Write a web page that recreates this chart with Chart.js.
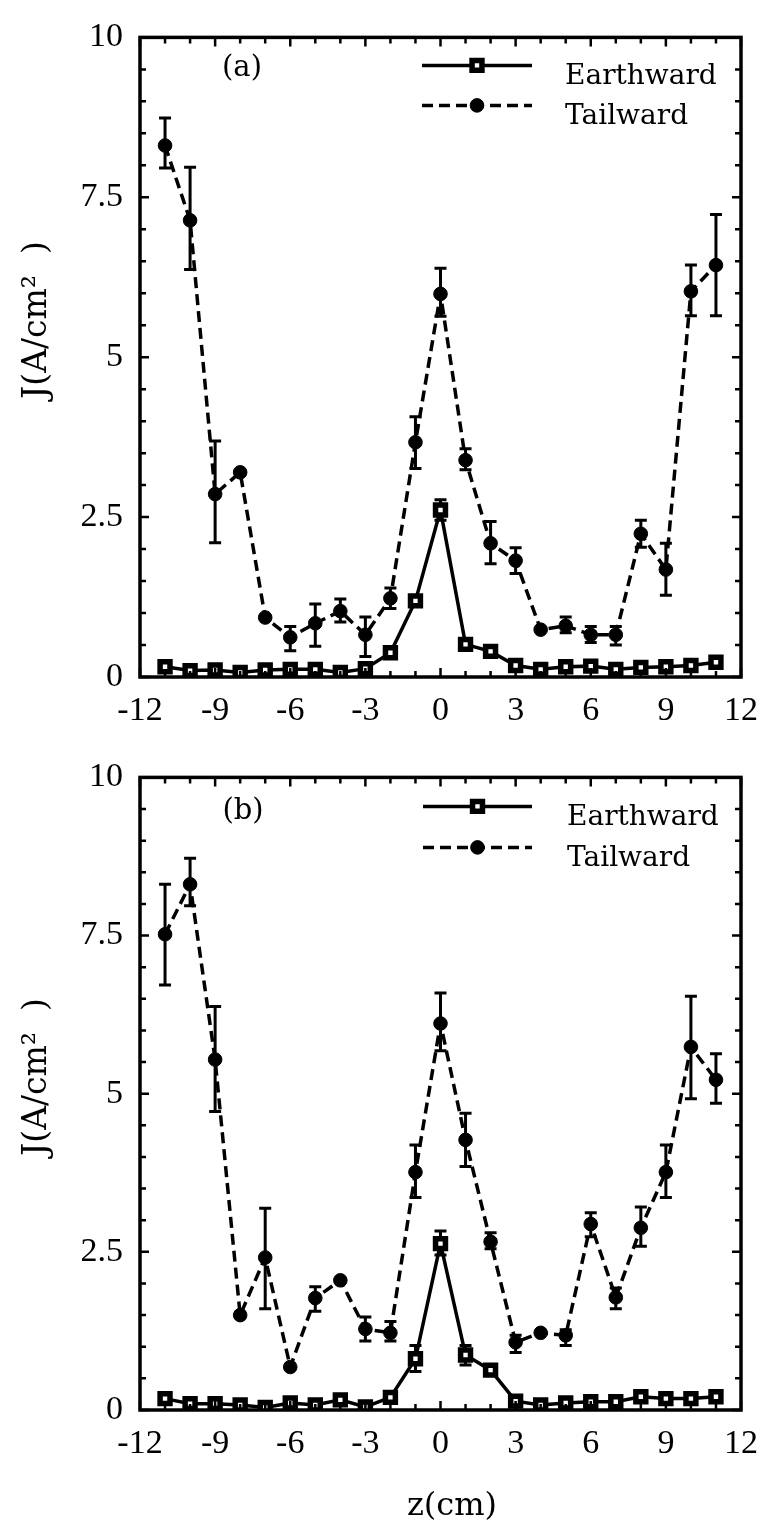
<!DOCTYPE html>
<html>
<head>
<meta charset="utf-8">
<script src="https://cdn.jsdelivr.net/npm/chart.js@4.4.0/dist/chart.umd.min.js"></script>
<style>
html, body { margin: 0; padding: 0; background: #fff; }
#wrapA { position: absolute; left: 0; top: 0; width: 772px; height: 740px; }
#wrapB { position: absolute; left: 0; top: 740px; width: 772px; height: 790px; }
</style>
</head>
<body>
<div id="wrapA"><canvas id="chartA"></canvas></div>
<div id="wrapB"><canvas id="chartB"></canvas></div>
<script>
// z positions (cm) and axis ticks
const zValues = [-11, -10, -9, -8, -7, -6, -5, -4, -3, -2, -1, 0, 1, 2, 3, 4, 5, 6, 7, 8, 9, 10, 11];
const xTicks = [-12, -9, -6, -3, 0, 3, 6, 9, 12];
const yTicks = [0, 2.5, 5, 7.5, 10];

// panel (a)
const earthA   = [0.16, 0.10, 0.11, 0.07, 0.11, 0.12, 0.12, 0.07, 0.13, 0.38, 1.19, 2.61, 0.51, 0.40, 0.18, 0.12, 0.16, 0.17, 0.12, 0.15, 0.16, 0.18, 0.23];
const earthAHi = [null, null, null, null, null, null, null, null, null, null, null, 2.77, null, null, null, null, null, null, null, null, null, null, null];
const earthALo = [null, null, null, null, null, null, null, null, null, null, null, 2.45, null, null, null, null, null, null, null, null, null, null, null];
const tailA    = [8.31, 7.14, 2.86, 3.20, 0.93, 0.62, 0.84, 1.03, 0.66, 1.23, 3.67, 5.99, 3.39, 2.09, 1.82, 0.74, 0.80, 0.66, 0.66, 2.24, 1.68, 6.03, 6.44];
const tailAHi  = [8.74, 7.97, 3.69, null, null, 0.79, 1.14, 1.22, 0.94, 1.39, 4.07, 6.39, 3.57, 2.43, 2.02, null, 0.94, 0.79, 0.79, 2.45, 2.09, 6.44, 7.23];
const tailALo  = [7.96, 6.37, 2.10, null, null, 0.41, 0.48, 0.86, 0.32, 1.07, 3.26, 5.64, 3.24, 1.77, 1.62, null, 0.69, 0.54, 0.50, 2.03, 1.28, 5.65, 5.65];

// panel (b)
const earthB   = [0.18, 0.10, 0.10, 0.08, 0.04, 0.11, 0.08, 0.16, 0.05, 0.20, 0.81, 2.63, 0.87, 0.63, 0.14, 0.08, 0.11, 0.13, 0.13, 0.21, 0.18, 0.18, 0.21];
const earthBHi = [null, null, null, null, null, null, null, null, null, null, 1.02, 2.83, 1.02, null, null, null, null, null, null, null, null, null, null];
const earthBLo = [null, null, null, null, null, null, null, null, null, null, 0.61, 2.45, 0.71, null, null, null, null, null, null, null, null, null, null];
const tailB    = [7.52, 8.31, 5.54, 1.50, 2.41, 0.68, 1.77, 2.05, 1.28, 1.22, 3.76, 6.11, 4.27, 2.66, 1.07, 1.22, 1.18, 2.94, 1.78, 2.88, 3.76, 5.74, 5.22];
const tailBHi  = [8.31, 8.72, 6.38, null, 3.19, null, 1.95, null, 1.47, 1.40, 4.19, 6.59, 4.69, 2.80, 1.18, null, 1.27, 3.12, 1.93, 3.21, 4.19, 6.54, 5.63];
const tailBLo  = [6.72, 7.97, 4.72, null, 1.60, null, 1.56, null, 1.09, 1.09, 3.36, 5.68, 3.85, 2.55, 0.91, null, 1.02, 2.74, 1.60, 2.59, 3.36, 4.92, 4.85];

const tickFont = { family: 'Liberation Serif', size: 34 };
const textFont = 'DejaVu Serif';

// error bars, frame with inside ticks, legend and labels
const decoPlugin = {
    id: 'deco',
    beforeDatasetsDraw(chart) {
        const ctx = chart.ctx;
        const xs = chart.scales.x, ys = chart.scales.y;
        ctx.save();
        ctx.strokeStyle = '#000';
        ctx.lineWidth = 3;
        chart.data.datasets.forEach(ds => {
            ds.data.forEach((p, i) => {
                const hi = ds.errHi[i], lo = ds.errLo[i];
                if (hi == null) return;
                const px = xs.getPixelForValue(p.x);
                const yh = ys.getPixelForValue(hi), yl = ys.getPixelForValue(lo);
                ctx.beginPath();
                ctx.moveTo(px, yh); ctx.lineTo(px, yl);
                ctx.moveTo(px - 6, yh); ctx.lineTo(px + 6, yh);
                ctx.moveTo(px - 6, yl); ctx.lineTo(px + 6, yl);
                ctx.stroke();
            });
        });
        ctx.restore();
    },
    afterDraw(chart, args, opts) {
        const ctx = chart.ctx;
        const a = chart.chartArea;
        const xs = chart.scales.x, ys = chart.scales.y;
        ctx.save();
        ctx.strokeStyle = '#000';
        ctx.fillStyle = '#000';

        // inside ticks
        ctx.lineWidth = 2.5;
        ctx.beginPath();
        for (let k = -12; k <= 12; k++) {
            const px = xs.getPixelForValue(k);
            const len = (k % 3 === 0) ? 9 : 6;
            ctx.moveTo(px, a.bottom); ctx.lineTo(px, a.bottom - len);
            ctx.moveTo(px, a.top); ctx.lineTo(px, a.top + len);
        }
        for (let k = 0; k <= 20; k++) {
            const py = ys.getPixelForValue(k / 2);
            const len = (k % 5 === 0) ? 9 : 6;
            ctx.moveTo(a.left, py); ctx.lineTo(a.left + len, py);
            ctx.moveTo(a.right, py); ctx.lineTo(a.right - len, py);
        }
        ctx.stroke();

        // frame
        ctx.lineWidth = 3.5;
        ctx.strokeRect(a.left, a.top, a.right - a.left, a.bottom - a.top);

        // legend
        chart.data.datasets.forEach((ds, i) => {
            const y = a.top + opts.legendRows[i];
            ctx.lineWidth = ds.borderWidth;
            ctx.setLineDash(ds.borderDash || []);
            ctx.beginPath();
            ctx.moveTo(opts.legendX1, y); ctx.lineTo(opts.legendX2, y);
            ctx.stroke();
            ctx.setLineDash([]);
            ctx.fillStyle = ds.pointBackgroundColor;
            ctx.strokeStyle = ds.pointBorderColor;
            ctx.lineWidth = ds.pointBorderWidth;
            Chart.helpers.drawPoint(ctx, { pointStyle: ds.pointStyle, radius: ds.pointRadius, rotation: 0, borderWidth: ds.pointBorderWidth },
                (opts.legendX1 + opts.legendX2) / 2, y);
            ctx.fillStyle = '#000';
            ctx.strokeStyle = '#000';
            ctx.font = '28px "' + textFont + '"';
            ctx.textAlign = 'left';
            ctx.textBaseline = 'alphabetic';
            ctx.fillText(ds.label, opts.legendTextX, y + 19);
        });

        // panel letter
        ctx.font = '29px "' + textFont + '"';
        ctx.textAlign = 'center';
        ctx.textBaseline = 'middle';
        ctx.fillText(opts.letter, opts.letterX, a.top + opts.letterDy);

        // y axis title
        ctx.save();
        ctx.translate(opts.titleX, opts.titleY);
        ctx.rotate(-Math.PI / 2);
        ctx.font = '33px "' + textFont + '"';
        ctx.fillText('J(A/cm\u00B2  )', 0, 0);
        ctx.restore();

        // x axis title
        if (opts.xTitle) {
            ctx.font = '32px "' + textFont + '"';
            ctx.fillText(opts.xTitle, opts.xTitleX, opts.xTitleY);
        }
        ctx.restore();
    }
};

function makeChart(id, earth, eHi, eLo, tail, tHi, tLo, panel) {
    return new Chart(document.getElementById(id), {
        type: 'line',
        data: {
            datasets: [
                {
                    label: 'Earthward',
                    data: zValues.map((z, i) => ({ x: z, y: earth[i] })),
                    errHi: eHi, errLo: eLo,
                    borderColor: '#000', borderWidth: 3.5, tension: 0,
                    pointStyle: 'rect', pointRadius: 7,
                    pointBackgroundColor: '#fff', pointBorderColor: '#000', pointBorderWidth: 5.5
                },
                {
                    label: 'Tailward',
                    data: zValues.map((z, i) => ({ x: z, y: tail[i] })),
                    errHi: tHi, errLo: tLo,
                    borderColor: '#000', borderWidth: 3.5, borderDash: [11, 6], tension: 0,
                    pointStyle: 'circle', pointRadius: 6.8,
                    pointBackgroundColor: '#000', pointBorderColor: '#000', pointBorderWidth: 1
                }
            ]
        },
        options: {
            responsive: true,
            maintainAspectRatio: false,
            animation: false,
            layout: { padding: { top: panel.top, right: 20, left: 0, bottom: 0 } },
            plugins: {
                legend: { display: false },
                tooltip: { enabled: false },
                deco: panel
            },
            scales: {
                x: {
                    type: 'linear', min: -12, max: 12,
                    grid: { display: false, drawTicks: false },
                    border: { display: false },
                    ticks: { font: tickFont, color: '#000', padding: 14, maxRotation: 0 },
                    afterBuildTicks: s => { s.ticks = xTicks.map(v => ({ value: v })); },
                    afterFit: s => { s.height = panel.xh; }
                },
                y: {
                    min: 0, max: 10,
                    grid: { display: false, drawTicks: false },
                    border: { display: false },
                    ticks: { font: tickFont, color: '#000', padding: 17, callback: v => String(v) },
                    afterBuildTicks: s => { s.ticks = yTicks.map(v => ({ value: v })); },
                    afterFit: s => { s.width = 140; }
                }
            }
        },
        plugins: [decoPlugin]
    });
}

makeChart('chartA', earthA, earthAHi, earthALo, tailA, tailAHi, tailALo, {
    top: 15, xh: 63, letter: '(a)', letterX: 242, letterDy: 31,
    legendRows: [28, 68], legendX1: 422, legendX2: 532, legendTextX: 565,
    titleX: 37, titleY: 320
});
makeChart('chartB', earthB, earthBHi, earthBLo, tailB, tailBHi, tailBLo, {
    top: 11, xh: 120, letter: '(b)', letterX: 243, letterDy: 34,
    legendRows: [29, 70], legendX1: 423, legendX2: 532, legendTextX: 567,
    titleX: 37, titleY: 337,
    xTitle: 'z(cm)', xTitleX: 452, xTitleY: 767
});
</script>
</body>
</html>
